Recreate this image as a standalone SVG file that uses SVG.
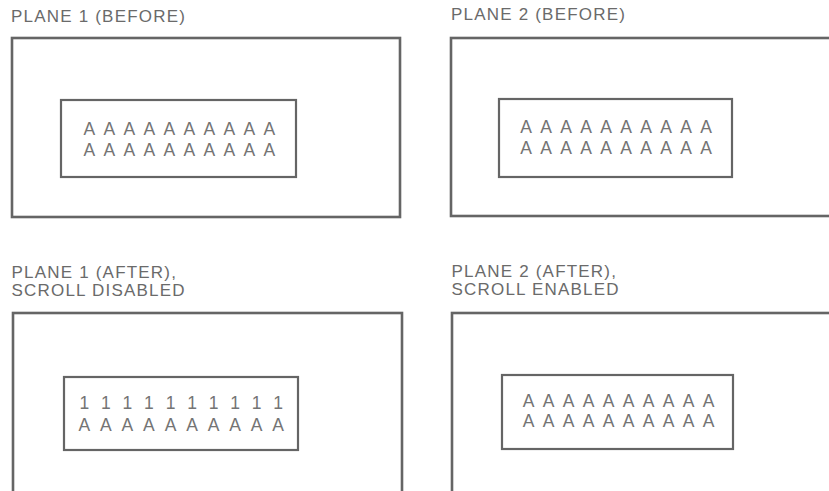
<svg xmlns="http://www.w3.org/2000/svg" width="829" height="491" viewBox="0 0 829 491">
<style>
.frame{fill:none;stroke:#656565;stroke-width:2.6}
.win{fill:none;stroke:#656565;stroke-width:2.2}
.title{font-family:"Liberation Sans",Arial,sans-serif;font-size:17px;letter-spacing:1.2px;fill:#6a6a6a}
.row{font-family:"Liberation Sans",Arial,sans-serif;font-size:17.5px;fill:#747474;text-anchor:middle}
</style>
<rect width="829" height="491" fill="#ffffff"/>
<g id="plane1-before">
<text class="title" x="11" y="22">PLANE 1 (BEFORE)</text>
<rect class="frame" x="12" y="38" width="388" height="179"/>
<rect class="win" x="61" y="100" width="235" height="77"/>
<text class="row" x="89.3 109.3 129.3 149.3 169.3 189.3 209.3 229.3 249.3 269.3" y="135">AAAAAAAAAA</text>
<text class="row" x="89.3 109.3 129.3 149.3 169.3 189.3 209.3 229.3 249.3 269.3" y="156">AAAAAAAAAA</text>
</g>
<g id="plane2-before">
<text class="title" x="451" y="20">PLANE 2 (BEFORE)</text>
<rect class="frame" x="451" y="38" width="400" height="178"/>
<rect class="win" x="499" y="99" width="233" height="78"/>
<text class="row" x="526.2 546.2 566.2 586.2 606.2 626.2 646.2 666.2 686.2 706.2" y="132.7">AAAAAAAAAA</text>
<text class="row" x="526.2 546.2 566.2 586.2 606.2 626.2 646.2 666.2 686.2 706.2" y="154">AAAAAAAAAA</text>
</g>
<g id="plane1-after">
<text class="title" x="11.5" y="278.3">PLANE 1 (AFTER),</text>
<text class="title" x="11.5" y="295.7">SCROLL DISABLED</text>
<rect class="frame" x="13" y="313" width="389" height="200"/>
<rect class="win" x="64" y="377" width="234" height="73"/>
<text class="row" x="84.3 105.8 127.4 148.9 170.5 192 213.6 235.1 256.7 278.2" y="409">1111111111</text>
<text class="row" x="84.3 105.8 127.4 148.9 170.5 192 213.6 235.1 256.7 278.2" y="431">AAAAAAAAAA</text>
</g>
<g id="plane2-after">
<text class="title" x="451.5" y="276.7">PLANE 2 (AFTER),</text>
<text class="title" x="451.5" y="295">SCROLL ENABLED</text>
<rect class="frame" x="452" y="313" width="400" height="200"/>
<rect class="win" x="502" y="375" width="231" height="74"/>
<text class="row" x="528.5 548.5 568.5 588.5 608.5 628.5 648.5 668.5 688.5 708.5" y="406.7">AAAAAAAAAA</text>
<text class="row" x="528.5 548.5 568.5 588.5 608.5 628.5 648.5 668.5 688.5 708.5" y="426.7">AAAAAAAAAA</text>
</g>
<g id="connectors"></g>
</svg>
